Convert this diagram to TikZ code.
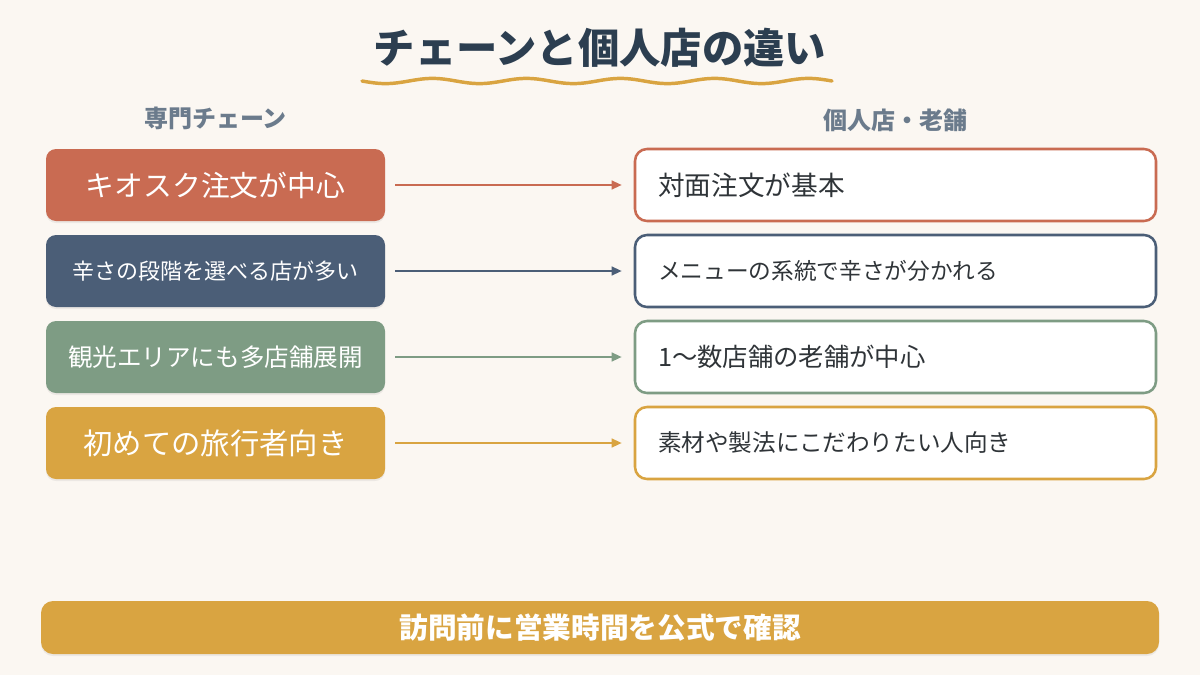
\documentclass[tikz,border=0pt]{standalone}
\usepackage{fontspec}
\setmainfont{Noto Sans CJK JP}
\usepackage{tikz}
\usetikzlibrary{arrows.meta, positioning, shadows}

\definecolor{bgcream}{HTML}{FBF7F2}
\definecolor{titlenavy}{HTML}{2C3E50}
\definecolor{headgray}{HTML}{6B7B8C}
\definecolor{terra}{HTML}{C96B52}
\definecolor{slate}{HTML}{4B5E77}
\definecolor{sage}{HTML}{7E9C84}
\definecolor{gold}{HTML}{D9A441}
\definecolor{bodytext}{HTML}{2F3438}

\newcommand{\fs}[1]{\fontsize{#1pt}{#1pt}\selectfont}

\begin{document}
\begin{tikzpicture}[
    x=0.75pt, y=-0.75pt,
    chainbox/.style={rectangle, rounded corners=7.5pt, minimum width=254.25pt, minimum height=54pt, align=center, text=white, inner sep=0pt, drop shadow={opacity=0.12, shadow xshift=0pt, shadow yshift=-1.5pt}},
    shopbox/.style={rectangle, draw, line width=1.9pt, rounded corners=9pt, fill=white, minimum width=390.75pt, minimum height=54pt, text width=356.25pt, inner xsep=17.25pt, align=left, text=bodytext},
    header/.style={font=\fs{18}\bfseries, text=headgray},
    arrow/.style={-{Triangle[length=7.5pt, width=6.5pt]}, line width=1.5pt, shorten <=7.5pt, shorten >=9pt}
]

% Background
\useasboundingbox[fill=bgcream] (0,0) rectangle (1200,675);

% Title
\node[font=\fs{31}\bfseries, text=titlenavy] (title) at (600,48) {チェーンと個人店の違い};
\draw[gold, line width=2.6pt, line cap=round] plot[domain=362:832, samples=120, smooth] (\x, {81+2.6*sin((\x-362)/94*360)});

% Column headers
\node[header] (chainhead) at (215.5,118) {専門チェーン};
\node[header] (shophead) at (895.5,120) {個人店・老舗};

% Chain stores (left column)
\node[chainbox, fill=terra, font=\fs{21.6}] (chain1) at (215.5,185) {キオスク注文が中心};
\node[chainbox, fill=slate, font=\fs{16.5}] (chain2) at (215.5,271) {辛さの段階を選べる店が多い};
\node[chainbox, fill=sage, font=\fs{18.4}] (chain3) at (215.5,357) {観光エリアにも多店舗展開};
\node[chainbox, fill=gold, font=\fs{22}] (chain4) at (215.5,443) {初めての旅行者向き};

% Independent shops (right column)
\node[shopbox, draw=terra, font=\fs{20}] (shop1) at (895.5,185) {対面注文が基本};
\node[shopbox, draw=slate, font=\fs{17}] (shop2) at (895.5,271) {メニューの系統で辛さが分かれる};
\node[shopbox, draw=sage, font=\fs{19}] (shop3) at (895.5,357) {1〜数店舗の老舗が中心};
\node[shopbox, draw=gold, font=\fs{17.7}] (shop4) at (895.5,443) {素材や製法にこだわりたい人向き};

% Arrows
\draw[arrow, terra] (chain1.east) -- (shop1.west);
\draw[arrow, slate] (chain2.east) -- (shop2.west);
\draw[arrow, sage] (chain3.east) -- (shop3.west);
\draw[arrow, gold] (chain4.east) -- (shop4.west);

% Bottom note
\node[chainbox, fill=gold, rounded corners=9pt, minimum width=838.5pt, minimum height=39.75pt, font=\fs{21.5}\bfseries] (note) at (600,627.5) {訪問前に営業時間を公式で確認};

\end{tikzpicture}
\end{document}
